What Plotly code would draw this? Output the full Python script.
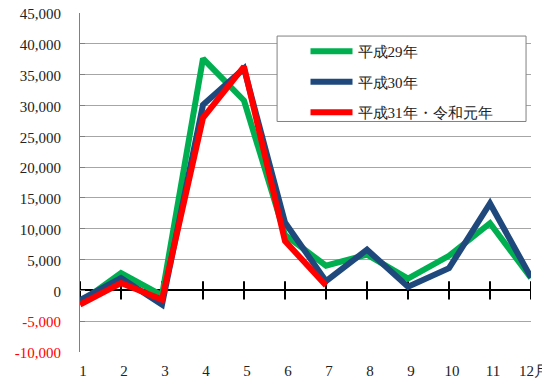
import plotly.graph_objects as go

months = [1, 2, 3, 4, 5, 6, 7, 8, 9, 10, 11, 12]
month_labels = ["1", "2", "3", "4", "5", "6", "7", "8", "9", "10", "11", "12月"]
h29 = [-2000, 2800, -800, 37600, 30800, 9000, 4000, 5800, 1900, 5600, 10900, 2000]
h30 = [-1600, 2000, -2300, 30100, 36000, 11000, 1500, 6600, 600, 3600, 14100, 2100]
r1 = [-2300, 1200, -1500, 28000, 36300, 8000, 800]
names = ["平成29年", "平成30年", "平成31年・令和元年"]
colors = ["#00B050", "#1F497D", "#FF0000"]

y_vals = list(range(-10000, 45001, 5000))
y_text = [("<span style='color:#FF0000'>%s</span>" % f"{v:,}") if v < 0 else f"{v:,}" for v in y_vals]

font_family = "Liberation Serif, Times New Roman, serif"

fig = go.Figure()
# tick marks on the zero axis
fig.add_trace(go.Scatter(
    x=months, y=[0] * len(months), mode="markers",
    marker=dict(symbol="line-ns", size=13, line=dict(color="black", width=2)),
    showlegend=False, hoverinfo="skip"))

for i, (vals, nm, c) in enumerate(zip([h29, h30, r1], names, colors)):
    fig.add_trace(go.Scatter(
        x=months[:len(vals)], y=vals, mode="lines", name=nm,
        line=dict(color=c, width=6), legendgroup=str(i)))

fig.update_layout(
    width=542, height=379,
    margin=dict(l=72, r=19, t=5, b=35, autoexpand=False),
    paper_bgcolor="white", plot_bgcolor="white",
    font=dict(family=font_family, size=15, color="#222222"),
    showlegend=True,
    legend=dict(x=0.50, y=0.935, xanchor="left", yanchor="top",
                bgcolor="rgba(0,0,0,0)", borderwidth=0, itemwidth=42,
                font=dict(size=15, family=font_family),
                traceorder="grouped", tracegroupgap=8),
    shapes=[dict(type="rect", xref="paper", yref="paper",
                 x0=0.437, x1=0.989, y0=0.68, y1=0.932,
                 line=dict(color="#808080", width=1), fillcolor="white", layer="above")],
)
fig.update_xaxes(range=[1, 12], tickvals=months, ticktext=month_labels,
                 showgrid=False, showline=False, ticks="", zeroline=False,
                 automargin=False, ticklabeloverflow="allow",
                 ticklabelstandoff=8, ticklabelshift=3, tickfont=dict(size=15))
fig.update_yaxes(range=[-10000, 45000], tickvals=y_vals, ticktext=y_text,
                 showgrid=True, gridcolor="#A6A6A6", gridwidth=1,
                 showline=True, linecolor="#808080", linewidth=1,
                 ticks="inside", ticklen=5, tickcolor="#808080",
                 zeroline=True, zerolinecolor="black", zerolinewidth=2,
                 automargin=False, ticklabeloverflow="allow",
                 ticklabelstandoff=15, ticklabelshift=1, tickfont=dict(size=15))

fig.write_html("out.html")
